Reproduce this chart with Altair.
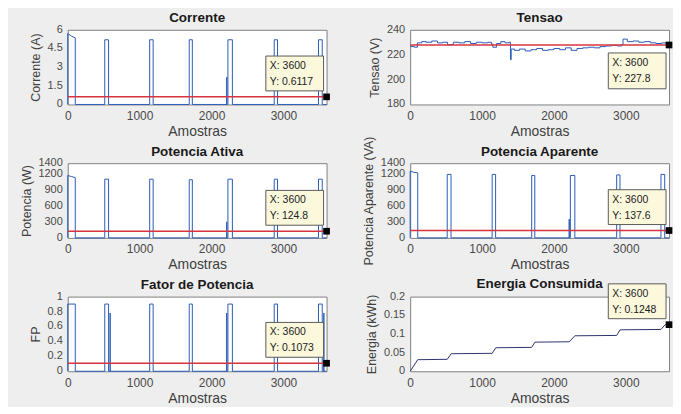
import altair as alt
import pandas as pd

FONT = "Liberation Sans"
BLUE = "#2a5cb8"
RED = "#d8343f"
TIPFILL = "#fbf8dc"
TIPSTROKE = "#5a5a5a"
LABEL_COLOR = "#4a4a4a"

x_ticks = [0, 1000, 2000, 3000]
X_MAX = 3600

# sample positions of the on/off cycles (shared by current, power and PF)
pulse_x = [0, 0, 50, 105, 105,
           515, 515, 568, 568,
           590, 590, 590,
           1140, 1140, 1188, 1188,
           1690, 1690, 1733, 1733,
           2212, 2212, 2212,
           2228, 2228, 2290, 2290,
           2872, 2872, 2918, 2918,
           3488, 3488, 3540, 3540,
           3562, 3562, 3562,
           3600]

corrente = [0, 5.7, 5.5, 5.35, 0,
            0, 5.2, 5.2, 0,
            0, 0, 0,
            0, 5.2, 5.2, 0,
            0, 5.2, 5.2, 0,
            0, 2.2, 0,
            0, 5.2, 5.2, 0,
            0, 5.2, 5.2, 0,
            0, 5.2, 5.2, 0,
            0, 0, 0,
            0]

pot_ativa = [0, 1170, 1150, 1130, 0,
             0, 1100, 1100, 0,
             0, 0, 0,
             0, 1100, 1100, 0,
             0, 1090, 1090, 0,
             0, 300, 0,
             0, 1100, 1100, 0,
             0, 1100, 1100, 0,
             0, 1100, 1100, 0,
             0, 0, 0,
             0]

pot_aparente = [0, 1250, 1230, 1220, 0,
                0, 1190, 1190, 0,
                0, 0, 0,
                0, 1190, 1190, 0,
                0, 1170, 1170, 0,
                0, 350, 0,
                0, 1170, 1170, 0,
                0, 1180, 1180, 0,
                0, 1190, 1190, 0,
                0, 0, 0,
                0]

fator_pot = [0, 0.9, 0.9, 0.9, 0,
             0, 0.9, 0.9, 0,
             0, 0.78, 0,
             0, 0.9, 0.9, 0,
             0, 0.9, 0.9, 0,
             0, 0.78, 0,
             0, 0.9, 0.9, 0,
             0, 0.9, 0.9, 0,
             0, 0.9, 0.9, 0,
             0, 0.78, 0,
             0]

tensao_x = [0, 60, 100, 160, 220, 300, 380, 450, 520, 600,
            680, 760, 840, 920, 1000, 1080, 1130, 1150, 1200, 1260,
            1320, 1380, 1395, 1405, 1450, 1520, 1600, 1680, 1760, 1840,
            1920, 2000, 2080, 2160, 2240, 2320, 2400, 2480, 2560, 2640,
            2720, 2800, 2880, 2940, 2960, 3020, 3100, 3180, 3260, 3340,
            3420, 3500, 3560, 3600]
tensao = [226.5, 226, 229.5, 230.5, 230, 231, 229.5, 230, 228, 230,
          229.5, 230.5, 229, 230, 229.5, 230, 228.5, 226, 229, 230.5,
          229.5, 230, 216, 224.5, 223.5, 224.5, 223, 224, 225, 223.5,
          224, 225, 224, 225.5, 223.5, 225, 225.5, 226, 225.5, 226.5,
          227, 227.5, 227, 228, 232.5, 230.5, 231, 230, 230.5, 229.5,
          229, 229.5, 228.5, 227.8]

energia_x = [0, 105, 515, 570, 1140, 1190, 1690, 1735, 2212, 2290, 2872, 2920, 3488, 3545, 3600]
energia = [0, 0.031, 0.032, 0.047, 0.048, 0.063, 0.064, 0.078, 0.079, 0.095, 0.096, 0.111, 0.112, 0.1245, 0.1248]

# y tick values of each panel
ticks_corrente = [0, 1.5, 3, 4.5, 6]
ticks_tensao = [180, 200, 220, 240]
ticks_potencia = [0, 300, 600, 900, 1200, 1400]
ticks_fp = [0, 0.2, 0.4, 0.6, 0.8, 1]
ticks_energia = [0, 0.05, 0.1, 0.15, 0.2]

# mean lines and data tips
media = {"corrente": 0.6117, "tensao": 227.8, "ativa": 124.8, "aparente": 137.6, "fp": 0.1073}
tip_values = {"corrente": 0.6117, "tensao": 227.8, "ativa": 124.8, "aparente": 137.6,
              "fp": 0.1073, "energia": 0.1248}
tip_labels = {"corrente": "Y: 0.6117", "tensao": "Y: 227.8", "ativa": "Y: 124.8",
              "aparente": "Y: 137.6", "fp": "Y: 0.1073", "energia": "Y: 0.1248"}

LABEL_EXPR = "'' + datum.value"
LABEL_PAD = 5
YLAB_SIZE = 11


def text_width(s, size=YLAB_SIZE):
    w = 0.0
    for ch in s:
        w += 0.278 if ch == "." else 0.556
    return w * size


def panel(title, ytitle, xs, ys, ydom, yticks, key, mean=None, interp="linear",
          color=BLUE, below=False, title_offset=-1):
    data = pd.DataFrame({"x": xs, "y": ys, "i": list(range(len(xs)))})
    ylabels = [f"{v:g}" for v in yticks]
    lab_w = max(text_width(s) for s in ylabels)
    xscale = alt.Scale(domain=[0, X_MAX], nice=False, zero=False)
    yscale = alt.Scale(domain=ydom, nice=False, zero=False)
    xenc = alt.X("x:Q", scale=xscale,
                 axis=alt.Axis(values=x_ticks, labelExpr=LABEL_EXPR, title="Amostras",
                               labelOverlap=False))
    yenc = alt.Y("y:Q", scale=yscale,
                 axis=alt.Axis(values=yticks, labels=False, title=ytitle,
                               titlePadding=LABEL_PAD + lab_w + 5))
    layers = [alt.Chart(data).mark_line(color=color, strokeWidth=1, interpolate=interp)
              .encode(x=xenc, y=yenc, order="i:Q")]
    # y tick labels, placed by the y scale
    layers.append(alt.Chart(pd.DataFrame({"y": yticks, "lab": ylabels}))
                  .mark_text(align="right", baseline="middle", font=FONT, fontSize=YLAB_SIZE,
                             color=LABEL_COLOR, dx=-LABEL_PAD)
                  .encode(y="y:Q", x=alt.value(0), text="lab:N"))
    if mean is not None:
        layers.append(alt.Chart(pd.DataFrame({"y": [mean]}))
                      .mark_rule(color=RED, strokeWidth=1.5).encode(y="y:Q"))
    tip = pd.DataFrame({"x": [X_MAX], "y": [tip_values[key]],
                        "l1": ["X: 3600"], "l2": [tip_labels[key]]})
    if below:
        y0, y1, t1, t2 = 8, 44, 18, 34
    else:
        y0, y1, t1, t2 = -41, -6, -31, -15
    layers.append(alt.Chart(tip).mark_rect(fill=TIPFILL, stroke=TIPSTROKE, strokeWidth=1,
                                           xOffset=-61, x2Offset=-3, yOffset=y0, y2Offset=y1)
                  .encode(x="x:Q", x2="x", y="y:Q", y2="y"))
    for fld, dy in (("l1", t1), ("l2", t2)):
        layers.append(alt.Chart(tip).mark_text(align="left", baseline="middle", font=FONT,
                                               fontSize=10.5, color="#222222", dx=-57, dy=dy)
                      .encode(x="x:Q", y="y:Q", text=f"{fld}:N"))
    layers.append(alt.Chart(tip).mark_square(size=45, color="black", opacity=1)
                  .encode(x="x:Q", y="y:Q"))
    return alt.layer(*layers).properties(
        title=alt.TitleParams(title, offset=title_offset), width=260, height=75)


panels = [
    panel("Corrente", "Corrente (A)", pulse_x, corrente, [0, 6], ticks_corrente,
          "corrente", mean=media["corrente"]),
    panel("Tensao", "Tensao (V)", tensao_x, tensao, [180, 240], ticks_tensao,
          "tensao", mean=media["tensao"], interp="step-after", below=True),
    panel("Potencia Ativa", "Potencia (W)", pulse_x, pot_ativa, [0, 1400],
          ticks_potencia, "ativa", mean=media["ativa"]),
    panel("Potencia Aparente", "Potencia Aparente (VA)", pulse_x, pot_aparente, [0, 1400],
          ticks_potencia, "aparente", mean=media["aparente"], title_offset=-23),
    panel("Fator de Potencia", "FP", pulse_x, fator_pot, [0, 1],
          ticks_fp, "fp", mean=media["fp"]),
    panel("Energia Consumida", "Energia (kWh)", energia_x, energia, [0, 0.2],
          ticks_energia, "energia", color="#2b3470", title_offset=-7),
]

chart = (
    alt.concat(*panels, columns=2, spacing={"row": 59, "column": 84}, bounds="flush")
    .properties(padding={"left": 12, "top": 2, "right": 0, "bottom": 0}, background="#eeeeee")
    .configure_view(stroke="#808080", strokeWidth=1, fill="white")
    .configure_axis(domain=False, grid=False, ticks=False, labelFont=FONT, labelFontSize=12,
                    labelColor=LABEL_COLOR, titleFont=FONT, titleFontWeight="normal",
                    titleColor="#404040", labelFlush=False)
    .configure_axisX(labelPadding=6, titlePadding=3, titleFontSize=14)
    .configure_axisY(titleFontSize=12.5)
    .configure_title(font=FONT, fontSize=13.5, fontWeight="bold", color="#1a1a1a",
                     frame="group")
)

chart.save("out.html", embed_options={"renderer": "svg", "actions": False})
